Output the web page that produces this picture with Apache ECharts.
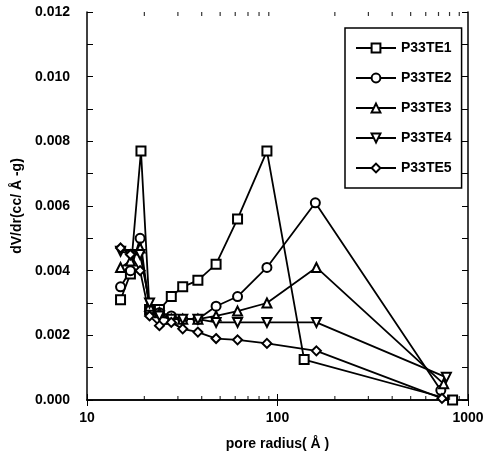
<!DOCTYPE html>
<html>
<head>
<meta charset="utf-8">
<script src="https://cdn.jsdelivr.net/npm/echarts@6/dist/echarts.min.js"></script>
<style>
html, body { margin: 0; padding: 0; background: #fff; }
#poreChart { width: 491px; height: 458px; }
</style>
</head>
<body>
<div id="poreChart"></div>
<script>
// pore radius (Å) for each sample
const radiusTE1 = [15.0, 16.9, 19.2, 21.3, 24.0, 27.7, 31.8, 38.2, 47.6, 61.7, 88, 138, 830]
const radiusTE2 = [15.0, 16.9, 19.0, 21.3, 24.0, 27.7, 31.8, 38.2, 47.6, 61.7, 88, 158, 720]
const radiusTE3 = [15.0, 16.9, 19.0, 21.3, 24.0, 27.7, 31.8, 38.2, 47.6, 61.7, 88, 160, 745]
const radiusTE4 = [15.0, 16.9, 19.0, 21.3, 24.0, 27.7, 31.8, 38.2, 47.6, 61.7, 88, 160, 770]
const radiusTE5 = [15.0, 16.9, 19.0, 21.3, 24.0, 27.7, 31.8, 38.2, 47.6, 61.7, 88, 160, 730]

// dV/dr values
const dvTE1 = [0.0031, 0.0039, 0.0077, 0.0028, 0.0028, 0.0032, 0.0035, 0.0037, 0.0042, 0.0056, 0.0077, 0.00125, 0.0]
const dvTE2 = [0.0035, 0.0040, 0.0050, 0.0028, 0.0027, 0.0026, 0.0025, 0.0025, 0.0029, 0.0032, 0.0041, 0.0061, 0.0003]
const dvTE3 = [0.0041, 0.0043, 0.0047, 0.0029, 0.0027, 0.0025, 0.0025, 0.0025, 0.0026, 0.00275, 0.0030, 0.0041, 0.0005]
const dvTE4 = [0.0046, 0.0045, 0.0045, 0.0030, 0.0026, 0.0025, 0.0025, 0.0025, 0.0024, 0.0024, 0.0024, 0.0024, 0.0007]
const dvTE5 = [0.0047, 0.0045, 0.0040, 0.0026, 0.0023, 0.0024, 0.0022, 0.0021, 0.0019, 0.00186, 0.00175, 0.00152, 0.00005]

const sampleNames = ['P33TE1', 'P33TE2', 'P33TE3', 'P33TE4', 'P33TE5']
const yTicks = [0, 0.002, 0.004, 0.006, 0.008, 0.010, 0.012]
// log minor tick positions on the radius axis
const minorRadius = [20, 30, 40, 50, 60, 70, 80, 90, 200, 300, 400, 500, 600, 700, 800, 900]

const pair = (xs, ys) => xs.map((x, i) => [x, ys[i]])

const initChart = () => {
	const chartDom = document.getElementById('poreChart')
	const myChart = echarts.init(chartDom)
	const font = 'Liberation Sans, Arial, sans-serif'
	const textStyle = { color: '#000', fontSize: 14, fontFamily: font, fontWeight: 'bold' }
	const lineSeries = (name, xs, ys, symbol, rotate) => ({
		name: name,
		type: 'line',
		data: pair(xs, ys),
		symbol: symbol,
		symbolSize: 9,
		symbolRotate: rotate || 0,
		showAllSymbol: true,
		lineStyle: { color: '#000', width: 1.8 },
		itemStyle: { color: '#000', borderWidth: 1.5 },
		z: 3
	})
	// log minor ticks drawn as thin rect symbols on an edge
	const minorTickSeries = (edge, offset) => ({
		type: 'scatter',
		silent: true,
		clip: false,
		z: 10,
		symbol: 'rect',
		symbolSize: [1.2, 4],
		symbolOffset: [0, offset],
		itemStyle: { color: '#000' },
		data: minorRadius.map((r) => [r, edge])
	})
	const frameAxis = {
		axisLine: { show: true, lineStyle: { color: '#000', width: 1.5 } },
		axisTick: { show: true, inside: true, length: 6, lineStyle: { color: '#000' } },
		splitLine: { show: false }
	}
	const options = {
		animation: false,
		backgroundColor: '#fff',
		grid: { left: 87, right: 23, top: 12, bottom: 58 },
		legend: {
			data: sampleNames,
			orient: 'vertical',
			left: 345,
			top: 28,
			padding: [13, 10, 13, 10],
			itemWidth: 40,
			itemHeight: 11,
			itemGap: 16,
			borderColor: '#000',
			borderWidth: 1.5,
			backgroundColor: '#fff',
			textStyle: textStyle
		},
		xAxis: [
			Object.assign({}, frameAxis, {
				type: 'log',
				logBase: 10,
				min: 10,
				max: 1000,
				name: 'pore radius( Å )',
				nameLocation: 'middle',
				nameGap: 37,
				nameTextStyle: textStyle,
				axisLabel: Object.assign({}, textStyle, { margin: 11, formatter: (v) => String(v) })
			}),
			Object.assign({}, frameAxis, {
				type: 'log',
				logBase: 10,
				min: 10,
				max: 1000,
				position: 'top',
				axisLabel: { show: false }
			})
		],
		yAxis: [
			Object.assign({}, frameAxis, {
				type: 'value',
				min: yTicks[0],
				max: yTicks[yTicks.length - 1],
				interval: 0.002,
				name: 'dV/dr(cc/ Å -g)',
				nameLocation: 'middle',
				nameGap: 47,
				nameTextStyle: textStyle,
				minorTick: { show: true, splitNumber: 2, length: 6, lineStyle: { color: '#000' } },
				axisLabel: Object.assign({}, textStyle, { margin: 17, formatter: (v) => v.toFixed(3) })
			}),
			Object.assign({}, frameAxis, {
				type: 'value',
				min: yTicks[0],
				max: yTicks[yTicks.length - 1],
				interval: 0.002,
				position: 'right',
				minorTick: { show: true, splitNumber: 2, length: 6, lineStyle: { color: '#000' } },
				axisLabel: { show: false }
			})
		],
		series: [
			lineSeries(sampleNames[0], radiusTE1, dvTE1, 'emptyRect'),
			lineSeries(sampleNames[1], radiusTE2, dvTE2, 'emptyCircle'),
			lineSeries(sampleNames[2], radiusTE3, dvTE3, 'emptyTriangle'),
			lineSeries(sampleNames[3], radiusTE4, dvTE4, 'emptyTriangle', 180),
			lineSeries(sampleNames[4], radiusTE5, dvTE5, 'emptyDiamond'),
			minorTickSeries(yTicks[0], -2),
			minorTickSeries(yTicks[yTicks.length - 1], 2)
		]
	}
	myChart.setOption(options)
	return myChart
}
initChart()
</script>
</body>
</html>
